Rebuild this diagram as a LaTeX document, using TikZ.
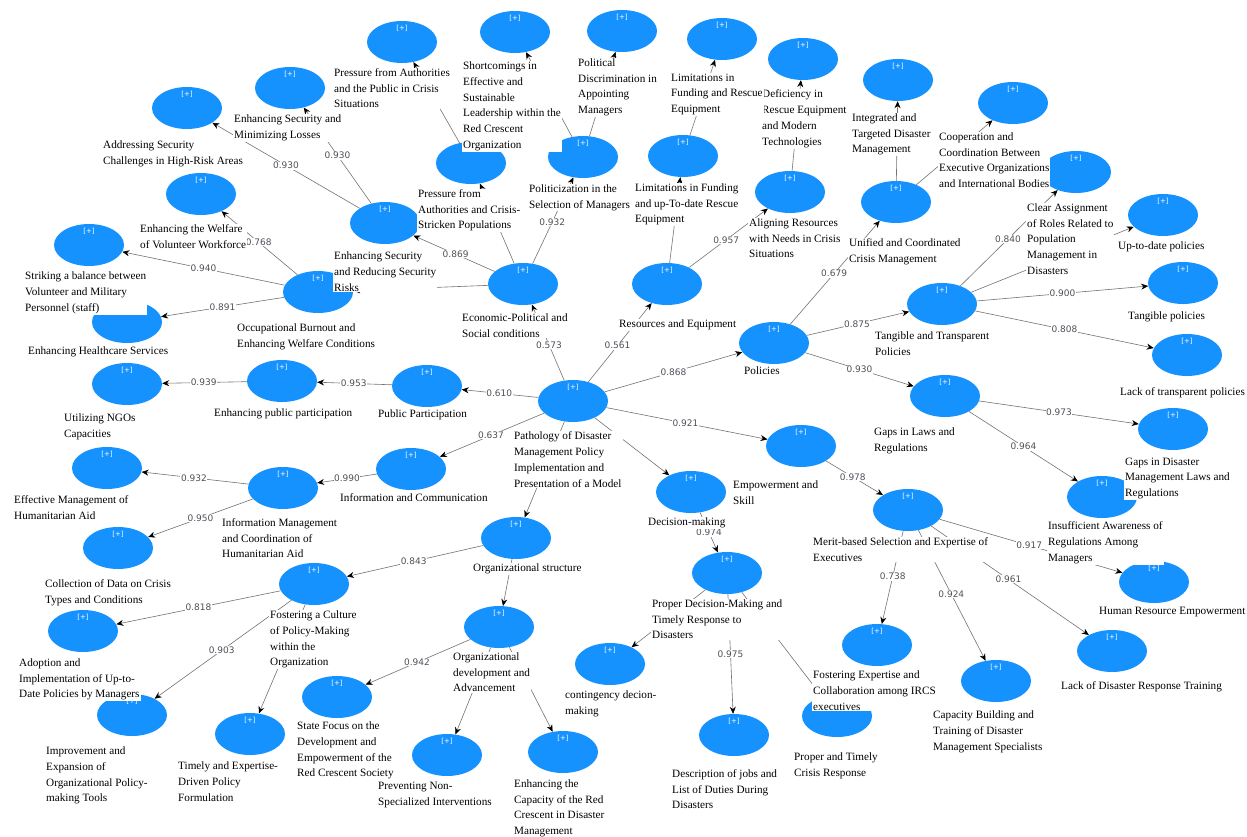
\documentclass[tikz,border=0pt]{standalone}
\usepackage{fontspec}
\setmainfont{Liberation Serif}
\newfontfamily\numfamily{DejaVu Sans}
\usetikzlibrary{shapes.geometric,arrows.meta}
\definecolor{blobblue}{RGB}{22,146,255}
\definecolor{edgegray}{RGB}{115,115,115}
\definecolor{numgray}{RGB}{80,80,90}
\pgfdeclarelayer{bg}\pgfdeclarelayer{edges}\pgfsetlayers{bg,edges,main}
\tikzset{
 blob/.style={ellipse, fill=blobblue, minimum width=70pt, minimum height=42pt, inner sep=0pt},
 plus/.style={font=\numfamily\fontsize{7}{8}\selectfont, text=white, inner sep=0pt},
 lbl/.style={anchor=north west, align=left, fill=white, inner sep=1pt, font=\fontsize{11.2}{15.7}\selectfont},
 link/.style={draw=edgegray, line width=0.6pt, -{Stealth[length=7pt,width=6pt,color=black]}},
 num/.style={fill=white, inner sep=0.6pt, text=numgray, font=\numfamily\fontsize{9}{10}\selectfont},
}
\newcommand\mkblob[3]{\node[blob] (#1) at (#2,#3) {};\node[plus] (#1p) at ([yshift=13.5pt]#1.center) {[+]};}
\newcommand\mklab[4]{\node[lbl] (#1t) at ({#2},{#3-8.6}) {#4};}
\begin{document}
\begin{tikzpicture}[x=1pt,y=-1pt]
\useasboundingbox (0,0) rectangle (1247,836);
\begin{pgfonlayer}{bg}\fill[white] (0,0) rectangle (1247,836);\end{pgfonlayer}
% ellipses
\mkblob{PA}{402}{42}
\mkblob{EMz}{290}{88}
\mkblob{AS}{187}{108}
\mkblob{EW}{201}{194}
\mkblob{SB}{89}{245}
\mkblob{ES}{385}{223}
\mkblob{OB}{318}{292}
\mkblob{HS}{127}{322}
\mkblob{UN}{127}{384}
\mkblob{EP}{282}{381}
\mkblob{PP}{427}{386}
\mkblob{C}{573}{401}
\mkblob{Ec}{523}{284}
\mkblob{R}{667}{284}
\mkblob{P}{774}{343}
\mkblob{Em}{801}{446}
\mkblob{DM}{691}{492}
\mkblob{OS}{516}{538}
\mkblob{IC}{411}{469}
\mkblob{IM}{283}{488}
\mkblob{EM}{107}{468}
\mkblob{CDd}{118}{548}
\mkblob{FC}{314}{584}
\mkblob{AD}{83}{631}
\mkblob{IE}{132}{715}
\mkblob{TE}{250}{734}
\mkblob{SF}{337}{697}
\mkblob{OD}{499}{627}
\mkblob{PN}{447}{755}
\mkblob{EC}{563}{752}
\mkblob{CD}{610}{664}
\mkblob{PD}{727}{573}
\mkblob{DJ}{734}{735}
\mkblob{PT}{837}{716}
\mkblob{FE}{877}{645}
\mkblob{CB}{996}{681}
\mkblob{LD}{1112}{651}
\mkblob{HR}{1154}{582}
\mkblob{MS}{908}{510}
\mkblob{IA}{1102}{497}
\mkblob{GD}{1173}{429}
\mkblob{GL}{945}{396}
\mkblob{TT}{942}{304}
\mkblob{TP}{1183}{283}
\mkblob{LT}{1187}{355}
\mkblob{UP}{1163}{215}
\mkblob{CA}{1076}{172}
\mkblob{CO}{1013}{103}
\mkblob{IT}{898}{80}
\mkblob{UC}{896}{202}
\mkblob{DE}{803}{59}
\mkblob{LF}{722}{39}
\mkblob{PDm}{622}{31}
\mkblob{SL}{515}{32}
\mkblob{PC}{471}{163}
\mkblob{Po}{583}{157}
\mkblob{LU}{683}{156}
\mkblob{AR}{790}{192}
% connectors
\begin{pgfonlayer}{edges}
\draw[link] (C) -- node[num,pos=.47]{0.573} (Ec);
\draw[link] (C) -- node[num,pos=.46]{0.561} (R);
\draw[link] (C) -- node[num,pos=.50]{0.868} (P);
\draw[link] (C) -- node[num,pos=.49]{0.921} (Em);
\draw[link] (C) -- node[num,pos=.51]{0.610} (PP);
\draw[link] (C) -- node[num,pos=.51]{0.637} (IC);
\draw[link] (C) -- (OS);
\draw[link] (C) -- (DM);
\draw[link] (Ec) -- node[num,pos=.48]{0.869} (ES);
\draw[link] (Ec) -- (PC);
\draw[link] (Ec) -- node[num,pos=.48]{0.932} (Po);
\draw[link] (Ec) -- (OB);
\draw[link] (R) -- (LU);
\draw[link] (R) -- node[num,pos=.47]{0.957} (AR);
\draw[link] (P) -- node[num,pos=.49]{0.679} (UC);
\draw[link] (P) -- node[num,pos=.49]{0.875} (TT);
\draw[link] (P) -- node[num,pos=.50]{0.930} (GL);
\draw[link] (UC) -- (IT);
\draw[link] (UC) -- (CO);
\draw[link] (TT) -- node[num,pos=.49]{0.840} (CA);
\draw[link] (TT) -- (UP);
\draw[link] (TT) -- node[num,pos=.50]{0.900} (TP);
\draw[link] (TT) -- node[num,pos=.50]{0.808} (LT);
\draw[link] (GL) -- node[num,pos=.50]{0.973} (GD);
\draw[link] (GL) -- node[num,pos=.50]{0.964} (IA);
\draw[link] (Em) -- node[num,pos=.47]{0.978} (MS);
\draw[link] (MS) -- node[num,pos=.49]{0.917} (HR);
\draw[link] (MS) -- node[num,pos=.49]{0.738} (FE);
\draw[link] (MS) -- node[num,pos=.49]{0.924} (CB);
\draw[link] (MS) -- node[num,pos=.49]{0.961} (LD);
\draw[link] (DM) -- node[num,pos=.50]{0.974} (PD);
\draw[link] (PD) -- (CD);
\draw[link] (PD) -- node[num,pos=.50]{0.975} (DJ);
\draw[link] (PD) -- (PT);
\draw[link] (OS) -- node[num,pos=.51]{0.843} (FC);
\draw[link] (OS) -- (OD);
\draw[link] (IC) -- node[num,pos=.50]{0.990} (IM);
\draw[link] (PP) -- node[num,pos=.51]{0.953} (EP);
\draw[link] (EP) -- node[num,pos=.51]{0.939} (UN);
\draw[link] (IM) -- node[num,pos=.51]{0.932} (EM);
\draw[link] (IM) -- node[num,pos=.50]{0.950} (CDd);
\draw[link] (FC) -- node[num,pos=.50]{0.818} (AD);
\draw[link] (FC) -- node[num,pos=.51]{0.903} (IE);
\draw[link] (FC) -- (TE);
\draw[link] (OD) -- node[num,pos=.51]{0.942} (SF);
\draw[link] (OD) -- (PN);
\draw[link] (OD) -- (EC);
\draw[link] (ES) -- node[num,pos=.50]{0.930} (AS);
\draw[link] (ES) -- node[num,pos=.50]{0.930} (EMz);
\draw[link] (OB) -- node[num,pos=.51]{0.768} (EW);
\draw[link] (OB) -- node[num,pos=.50]{0.940} (SB);
\draw[link] (OB) -- node[num,pos=.50]{0.891} (HS);
\draw[link] (PC) -- (PA);
\draw[link] (Po) -- (SL);
\draw[link] (Po) -- (PDm);
\draw[link] (LU) -- (LF);
\draw[link] (AR) -- (DE);
\end{pgfonlayer}
% labels
\mklab{PA}{333}{76}{Pressure from Authorities\\and the Public in Crisis\\Situations}
\mklab{EMz}{233}{122.5}{Enhancing Security and\\Minimizing Losses}
\mklab{AS}{102}{148.5}{Addressing Security\\Challenges in High-Risk Areas}
\mklab{EW}{139}{232}{Enhancing the Welfare\\of Volunteer Workforce}
\mklab{SB}{24}{279.5}{Striking a balance between\\Volunteer and Military\\Personnel (staff)}
\mklab{ES}{333}{259.5}{Enhancing Security\\and Reducing Security\\Risks}
\mklab{OB}{236}{331}{Occupational Burnout and\\Enhancing Welfare Conditions}
\mklab{HS}{27}{354.5}{Enhancing Healthcare Services}
\mklab{UN}{63}{421}{Utilizing NGOs\\Capacities}
\mklab{EP}{213}{416}{Enhancing public participation}
\mklab{PP}{377}{417.5}{Public Participation}
\mklab{EM}{13}{503.5}{Effective Management of\\Humanitarian Aid}
\mklab{IM}{221}{526}{Information Management\\and Coordination of\\Humanitarian Aid}
\mklab{IC}{339}{501.5}{Information and Communication}
\mklab{CDd}{44}{587}{Collection of Data on Crisis\\Types and Conditions}
\mklab{AD}{18}{666}{Adoption and\\Implementation of Up-to-\\Date Policies by Managers}
\mklab{IE}{45}{754.5}{Improvement and\\Expansion of\\Organizational Policy-\\making Tools}
\mklab{TE}{177}{769.5}{Timely and Expertise-\\Driven Policy\\Formulation}
\mklab{FC}{269}{618.5}{Fostering a Culture\\of Policy-Making\\within the\\Organization}
\mklab{SF}{296}{729.5}{State Focus on the\\Development and\\Empowerment of the\\Red Crescent Society}
\mklab{OS}{472}{571}{Organizational structure}
\mklab{OD}{452}{660}{Organizational\\development and\\Advancement}
\mklab{PN}{377}{789.5}{Preventing Non-\\Specialized Interventions}
\mklab{EC}{513}{787}{Enhancing the\\Capacity of the Red\\Crescent in Disaster\\Management}
\mklab{CD}{564}{698.5}{contingency decion-\\making}
\mklab{PD}{651}{607}{Proper Decision-Making and\\Timely Response to\\Disasters}
\mklab{DJ}{671}{777}{Description of jobs and\\List of Duties During\\Disasters}
\mklab{FE}{812}{678.5}{Fostering Expertise and\\Collaboration among IRCS\\executives}
\mklab{PT}{793}{760.5}{Proper and Timely\\Crisis Response}
\mklab{CB}{932}{718.5}{Capacity Building and\\Training of Disaster\\Management Specialists}
\mklab{LD}{1060}{689}{Lack of Disaster Response Training}
\mklab{HR}{1098}{615}{Human Resource Empowerment}
\mklab{MS}{812}{545}{Merit-based Selection and Expertise of\\Executives}
\mklab{IA}{1047}{529.5}{Insufficient Awareness of\\Regulations Among\\Managers}
\mklab{GD}{1124}{465}{Gaps in Disaster\\Management Laws and\\Regulations}
\mklab{GL}{873}{435}{Gaps in Laws and\\Regulations}
\mklab{TT}{874}{339}{Tangible and Transparent\\Policies}
\mklab{TP}{1127}{319}{Tangible policies}
\mklab{LT}{1119}{395}{Lack of transparent policies}
\mklab{UP}{1117}{249.5}{Up-to-date policies}
\mklab{CA}{1026}{211}{Clear Assignment\\of Roles Related to\\Population\\Management in\\Disasters}
\mklab{CO}{938}{140}{Cooperation and\\Coordination Between\\Executive Organizations\\and International Bodies}
\mklab{IT}{851}{121}{Integrated and\\Targeted Disaster\\Management}
\mklab{UC}{848}{246}{Unified and Coordinated\\Crisis Management}
\mklab{DE}{761}{97.5}{Deficiency in\\Rescue Equipment\\and Modern\\Technologies}
\mklab{LF}{670}{81}{Limitations in\\Funding and Rescue\\Equipment}
\mklab{PDm}{577}{66}{Political\\Discrimination in\\Appointing\\Managers}
\mklab{SL}{462}{69.5}{Shortcomings in\\Effective and\\Sustainable\\Leadership within the\\Red Crescent\\Organization}
\mklab{PC}{417}{197}{Pressure from\\Authorities and Crisis-\\Stricken Populations}
\mklab{Po}{528}{192}{Politicization in the\\Selection of Managers}
\mklab{LU}{634}{191}{Limitations in Funding\\and up-To-date Rescue\\Equipment}
\mklab{AR}{748}{226}{Aligning Resources\\with Needs in Crisis\\Situations}
\mklab{Ec}{461}{321}{Economic-Political and\\Social conditions}
\mklab{R}{618}{327}{Resources and Equipment}
\mklab{P}{743}{374}{Policies}
\mklab{C}{513}{439.5}{Pathology of Disaster\\Management Policy\\Implementation and\\Presentation of a Model}
\mklab{Em}{732}{488.5}{Empowerment and\\Skill}
\mklab{DM}{647}{525}{Decision-making}
\end{tikzpicture}
\end{document}
